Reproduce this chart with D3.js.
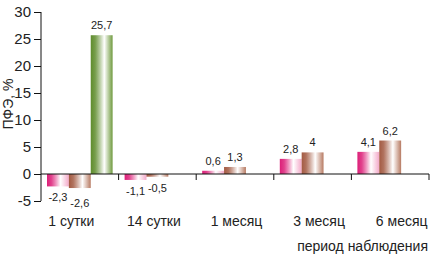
<!DOCTYPE html>
<html><head><meta charset="utf-8">
<script src="https://cdn.jsdelivr.net/npm/d3@7"></script>
<style>
html,body{margin:0;padding:0;background:#fff;}
svg{display:block;font-family:"Liberation Sans",Arial,sans-serif;}
</style></head>
<body><svg id="c" width="431" height="255"></svg>
<script>
const categories = ["1 сутки","14 сутки","1 месяц","3 месяц","6 месяц"];
const seriesPink  = [-2.3, -1.1, 0.6, 2.8, 4.1];
const seriesBrown = [-2.6, -0.5, 1.3, 4, 6.2];
const seriesGreen = [25.7, null, null, null, null];
const yTicks = [-5, 0, 5, 10, 15, 20, 25, 30];
const yLabel = "ПФЭ, %";
const xTitle = "период наблюдения";

const svg = d3.select("#c");
const y = d3.scaleLinear().domain([-5, 30]).range([201, 12]);
const x = d3.scaleBand().domain(categories).range([41, 429]);
const xl = d3.scaleBand().domain(categories).range([30, 443]);
const sub = d3.scaleBand().domain(["pink","brown","green"]).range([6, x.bandwidth()-6]);

const defs = svg.append("defs");
function grad(id, c1, c2){
  const g = defs.append("linearGradient").attr("id", id).attr("x1","0").attr("x2","1").attr("y1","0").attr("y2","0");
  g.append("stop").attr("offset","0").attr("stop-color", c1);
  g.append("stop").attr("offset","0.2").attr("stop-color", c1).attr("stop-opacity",0.85);
  g.append("stop").attr("offset","0.62").attr("stop-color", "#ffffff");
  g.append("stop").attr("offset","1").attr("stop-color", c2);
}
grad("gPink", "#dc1f78", "#f3a9c9");
grad("gBrown", "#a35a42", "#b77a62");
grad("gGreen", "#5e8c2c", "#6f9a3e");

const series = [
  {key:"pink", vals: seriesPink, fill:"url(#gPink)"},
  {key:"brown", vals: seriesBrown, fill:"url(#gBrown)"},
  {key:"green", vals: seriesGreen, fill:"url(#gGreen)"}
];
const fmt = v => String(v).replace(".", ",");

series.forEach(s => {
  const data = categories.map((c,i)=>({c, v:s.vals[i]})).filter(d=>d.v!==null);
  svg.append("g").selectAll("rect").data(data).join("rect")
    .attr("x", d => x(d.c) + sub(s.key))
    .attr("width", sub.bandwidth())
    .attr("y", d => y(Math.max(0, d.v)))
    .attr("height", d => Math.abs(y(d.v) - y(0)))
    .attr("fill", s.fill);
  svg.append("g").selectAll("text").data(data).join("text")
    .attr("x", d => x(d.c) + sub(s.key) + sub.bandwidth()/2)
    .attr("y", d => d.v >= 0 ? y(d.v) - 6 : y(d.v) + (s.key==="brown" && d.v < -2 ? 19 : 15))
    .attr("text-anchor","middle")
    .attr("font-size", 11)
    .attr("fill","#222")
    .text(d => fmt(d.v));
});

// y axis
const yAxis = svg.append("g").attr("transform","translate(41,0)")
  .call(d3.axisLeft(y).tickValues(yTicks).tickSize(7).tickPadding(3).tickFormat(d=>String(d)));
yAxis.select(".domain").attr("stroke","#111").attr("d","M0,12V201");
yAxis.selectAll(".tick line").attr("stroke","#111");
yAxis.selectAll("text").attr("font-size",15).attr("fill","#222").attr("font-family","Liberation Sans, Arial, sans-serif");

// x axis at zero
const xAxis = svg.append("g").attr("transform",`translate(0,${y(0)})`);
xAxis.append("line").attr("x1",41).attr("x2",429).attr("stroke","#111");
xAxis.selectAll("line.t").data(categories).join("line").attr("class","t")
  .attr("x1", d => x(d)+x.bandwidth()).attr("x2", d => x(d)+x.bandwidth())
  .attr("y1",0).attr("y2",6).attr("stroke","#111");

svg.append("g").selectAll("text").data(categories).join("text")
  .attr("x", d => xl(d) + xl.bandwidth()/2)
  .attr("y", 226)
  .attr("text-anchor","middle")
  .attr("font-size",14)
  .attr("fill","#222")
  .text(d=>d);

svg.append("text").attr("x",428).attr("y",251).attr("text-anchor","end")
  .attr("font-size",14).attr("fill","#222").text(xTitle);

svg.append("text").attr("transform","translate(13,104) rotate(-90)")
  .attr("text-anchor","middle").attr("font-size",14).attr("fill","#222").text(yLabel);
</script></body></html>
